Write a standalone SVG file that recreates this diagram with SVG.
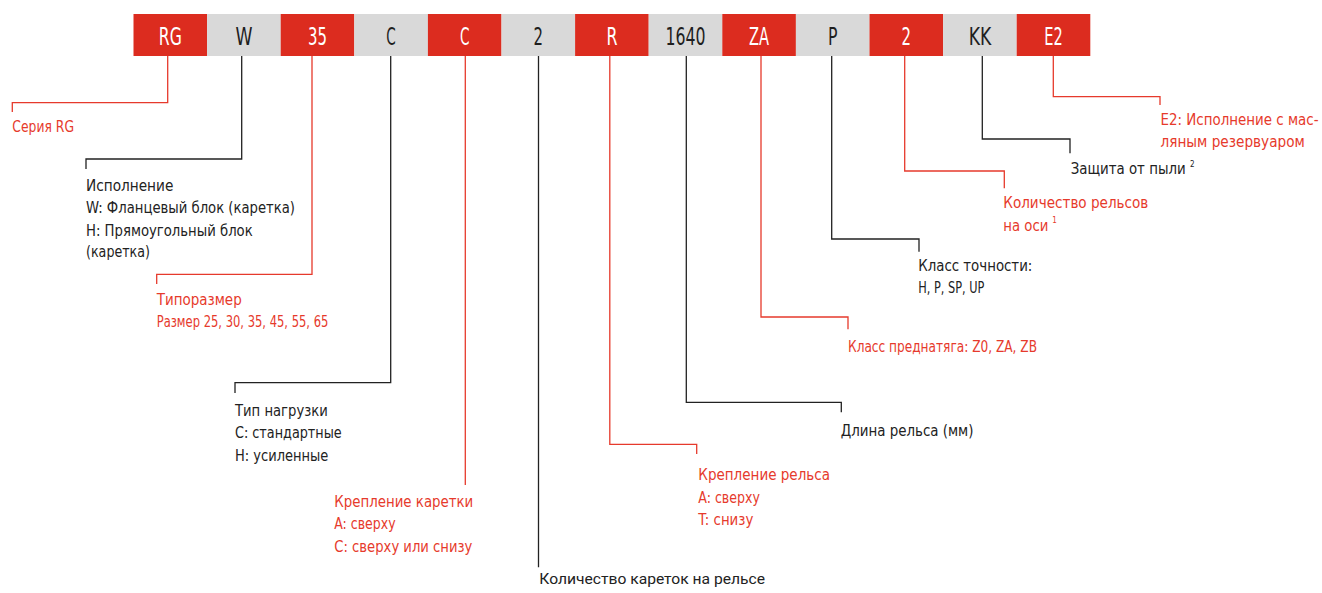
<svg xmlns="http://www.w3.org/2000/svg" width="1322" height="593" viewBox="0 0 1322 593">
<style>
.br{fill:#DC2C1F}
.bg{fill:#D9D9D9}
.tw{fill:#FFFFFF;font-family:"Liberation Sans Narrow","DejaVu Sans Condensed","Liberation Sans",sans-serif;font-size:25px;text-anchor:middle}
.td{fill:#1E1E1E;font-family:"Liberation Sans Narrow","DejaVu Sans Condensed","Liberation Sans",sans-serif;font-size:25px;text-anchor:middle}
.lr{fill:#E63A2C;font-family:"Liberation Sans Narrow","DejaVu Sans Condensed","Liberation Sans",sans-serif;font-size:16px}
.lk{fill:#222222;font-family:"Liberation Sans Narrow","DejaVu Sans Condensed","Liberation Sans",sans-serif;font-size:16px}
.lb{fill:#222222;font-family:"Roboto","Liberation Sans",sans-serif;font-size:15px}
.sm{font-size:15px}
.sup{font-size:8px}
.cr{fill:none;stroke:#E63A2C;stroke-width:1.3}
.ck{fill:none;stroke:#222222;stroke-width:1.3}
</style>
<rect width="1322" height="593" fill="#FFFFFF"/>
<g id="connectors">
<polyline class="cr" points="167.7,56 167.7,102.7 12.3,102.7 12.3,112"/>
<polyline class="ck" points="241.7,56 241.7,159 86,159 86,169"/>
<polyline class="cr" points="312,56 312,274.3 156.7,274.3 156.7,284"/>
<polyline class="ck" points="390.7,56 390.7,382.7 235,382.7 235,393"/>
<polyline class="cr" points="465.3,56 465.3,485"/>
<polyline class="ck" points="538.5,56 538.5,567.3"/>
<polyline class="cr" points="609.8,56 609.8,444.3 696.7,444.3 696.7,454"/>
<polyline class="ck" points="686.3,56 686.3,402.3 841.3,402.3 841.3,412.3"/>
<polyline class="cr" points="761,56 761,317 848,317 848,329.3"/>
<polyline class="ck" points="831.7,56 831.7,239 919,239 919,251.7"/>
<polyline class="cr" points="904.7,56 904.7,171 1004.3,171 1004.3,188.3"/>
<polyline class="ck" points="982.3,56 982.3,139 1070,139 1070,153.3"/>
<polyline class="cr" points="1053.3,56 1053.3,96.7 1160,96.7 1160,105"/>
</g>
<g id="box-RG"><rect class="br" x="133.5" y="14" width="73.6" height="42"/><text class="tw" x="170.3" y="45" textLength="23" lengthAdjust="spacingAndGlyphs">RG</text></g>
<g id="box-W"><rect class="bg" x="207.1" y="14" width="73.6" height="42"/><text class="td" x="243.9" y="45" textLength="17" lengthAdjust="spacingAndGlyphs">W</text></g>
<g id="box-35"><rect class="br" x="280.7" y="14" width="73.6" height="42"/><text class="tw" x="317.5" y="45" textLength="19" lengthAdjust="spacingAndGlyphs">35</text></g>
<g id="box-C1"><rect class="bg" x="354.3" y="14" width="73.6" height="42"/><text class="td" x="391.1" y="45" textLength="9.5" lengthAdjust="spacingAndGlyphs">C</text></g>
<g id="box-C2"><rect class="br" x="427.9" y="14" width="73.6" height="42"/><text class="tw" x="464.7" y="45" textLength="9.5" lengthAdjust="spacingAndGlyphs">C</text></g>
<g id="box-2a"><rect class="bg" x="501.5" y="14" width="73.6" height="42"/><text class="td" x="538.3" y="45" textLength="9.5" lengthAdjust="spacingAndGlyphs">2</text></g>
<g id="box-R"><rect class="br" x="575.1" y="14" width="73.6" height="42"/><text class="tw" x="611.9" y="45" textLength="11" lengthAdjust="spacingAndGlyphs">R</text></g>
<g id="box-1640"><rect class="bg" x="648.7" y="14" width="73.6" height="42"/><text class="td" x="685.5" y="45" textLength="40" lengthAdjust="spacingAndGlyphs">1640</text></g>
<g id="box-ZA"><rect class="br" x="722.3" y="14" width="73.6" height="42"/><text class="tw" x="759.1" y="45" textLength="20" lengthAdjust="spacingAndGlyphs">ZA</text></g>
<g id="box-P"><rect class="bg" x="795.9" y="14" width="73.6" height="42"/><text class="td" x="832.7" y="45" textLength="9.5" lengthAdjust="spacingAndGlyphs">P</text></g>
<g id="box-2b"><rect class="br" x="869.5" y="14" width="73.6" height="42"/><text class="tw" x="906.3" y="45" textLength="9.5" lengthAdjust="spacingAndGlyphs">2</text></g>
<g id="box-KK"><rect class="bg" x="943.1" y="14" width="73.6" height="42"/><text class="td" x="979.9" y="45" textLength="22.5" lengthAdjust="spacingAndGlyphs">KK</text></g>
<g id="box-E2"><rect class="br" x="1016.7" y="14" width="73.6" height="42"/><text class="tw" x="1053.5" y="45" textLength="18.5" lengthAdjust="spacingAndGlyphs">E2</text></g>

<g id="label-series"><text class="lr" x="12.3" y="131.7" textLength="61.7" lengthAdjust="spacingAndGlyphs">Серия RG</text></g>
<g id="label-version">
<text class="lk" x="86" y="191" textLength="87.3" lengthAdjust="spacingAndGlyphs">Исполнение</text>
<text class="lk" x="86" y="213" textLength="209" lengthAdjust="spacingAndGlyphs">W: Фланцевый блок (каретка)</text>
<text class="lk" x="86" y="235.5" textLength="166.7" lengthAdjust="spacingAndGlyphs">H: Прямоугольный блок</text>
<text class="lk" x="86" y="257" textLength="64" lengthAdjust="spacingAndGlyphs">(каретка)</text>
</g>
<g id="label-size">
<text class="lr" x="156.7" y="305" textLength="85" lengthAdjust="spacingAndGlyphs">Типоразмер</text>
<text class="lr" x="156.7" y="327" textLength="171.7" lengthAdjust="spacingAndGlyphs">Размер 25, 30, 35, 45, 55, 65</text>
</g>
<g id="label-load">
<text class="lk" x="235" y="416" textLength="92.7" lengthAdjust="spacingAndGlyphs">Тип нагрузки</text>
<text class="lk" x="235" y="438.3" textLength="106.7" lengthAdjust="spacingAndGlyphs">C: стандартные</text>
<text class="lk" x="235" y="460.7" textLength="93.3" lengthAdjust="spacingAndGlyphs">H: усиленные</text>
</g>
<g id="label-carriage-mount">
<text class="lr" x="334.3" y="506.7" textLength="139" lengthAdjust="spacingAndGlyphs">Крепление каретки</text>
<text class="lr" x="334.3" y="529.3" textLength="61.3" lengthAdjust="spacingAndGlyphs">A: сверху</text>
<text class="lr" x="334.3" y="551.7" textLength="138" lengthAdjust="spacingAndGlyphs">C: сверху или снизу</text>
</g>
<g id="label-carriage-count">
<text class="lb" x="539.3" y="584" textLength="225.7" lengthAdjust="spacingAndGlyphs">Количество кареток на рельсе</text>
</g>
<g id="label-rail-mount">
<text class="lr" x="698.3" y="480" textLength="131.7" lengthAdjust="spacingAndGlyphs">Крепление рельса</text>
<text class="lr" x="698.3" y="502.7" textLength="61.7" lengthAdjust="spacingAndGlyphs">A: сверху</text>
<text class="lr" x="698.3" y="525" textLength="55" lengthAdjust="spacingAndGlyphs">T: снизу</text>
</g>
<g id="label-rail-length">
<text class="lk" x="840.7" y="436" textLength="132.7" lengthAdjust="spacingAndGlyphs">Длина рельса (мм)</text>
</g>
<g id="label-preload">
<text class="lr" x="848" y="351.7" textLength="189" lengthAdjust="spacingAndGlyphs">Класс преднатяга: Z0, ZA, ZB</text>
</g>
<g id="label-accuracy">
<text class="lk" x="918.3" y="271" textLength="114" lengthAdjust="spacingAndGlyphs">Класс точности:</text>
<text class="lk" x="918.3" y="292.7" textLength="66" lengthAdjust="spacingAndGlyphs">H, P, SP, UP</text>
</g>
<g id="label-rail-count">
<text class="lr" x="1003.3" y="208.3" textLength="145" lengthAdjust="spacingAndGlyphs">Количество рельсов</text>
<text class="lr" x="1003.3" y="230.7" textLength="45" lengthAdjust="spacingAndGlyphs">на оси</text>
<text class="lr sup" x="1052.3" y="223.3">1</text>
</g>
<g id="label-dust">
<text class="lk sm" x="1070.7" y="174.3" textLength="115" lengthAdjust="spacingAndGlyphs">Защита от пыли</text>
<text class="lk sup" x="1190" y="167.3">2</text>
</g>
<g id="label-e2">
<text class="lr sm" x="1160.5" y="125" textLength="158" lengthAdjust="spacingAndGlyphs">E2: Исполнение с мас-</text>
<text class="lr sm" x="1160.5" y="146.7" textLength="144.3" lengthAdjust="spacingAndGlyphs">ляным резервуаром</text>
</g>
</svg>
